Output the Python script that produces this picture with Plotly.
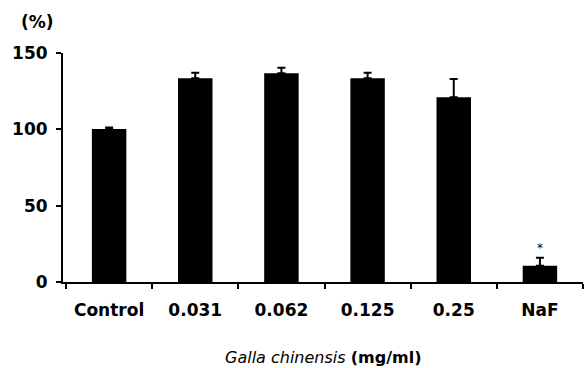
import plotly.graph_objects as go

categories = ["Control", "0.031", "0.062", "0.125", "0.25", "NaF"]
values = [100.2, 133.4, 136.7, 133.4, 121.0, 10.7]
errors = [1.0, 3.6, 3.7, 3.6, 12.0, 5.2]
y_ticks = [0, 50, 100, 150]
significant = ["", "", "", "", "", "*"]

FONT = "DejaVu Sans"

fig = go.Figure()
fig.add_trace(go.Bar(
    x=categories,
    y=values,
    width=0.4,
    marker=dict(color="black", line=dict(width=0)),
    error_y=dict(type="data", array=errors, arrayminus=[0]*len(errors),
                 symmetric=False, color="black", thickness=2, width=4),
    showlegend=False,
))

for c, v, e, s in zip(categories, values, errors, significant):
    if s:
        fig.add_annotation(x=c, y=v + e, text=s, showarrow=False,
                           yanchor="bottom", yshift=1,
                           font=dict(family=FONT, size=12, color="black"))

fig.add_annotation(x=-0.05, y=1.135, xref="paper", yref="paper", text="<b>(%)</b>",
                   showarrow=False, xanchor="center", yanchor="middle",
                   font=dict(family=FONT, size=17, color="black"))

fig.add_annotation(x=0.5, y=-0.33, xref="paper", yref="paper",
                   text="<i>Galla chinensis</i> <b>(mg/ml)</b>",
                   showarrow=False, xanchor="center", yanchor="middle",
                   font=dict(family=FONT, size=16, color="black"))

fig.update_layout(
    width=584, height=368,
    margin=dict(l=63, r=1, t=53, b=86, autoexpand=False),
    paper_bgcolor="white", plot_bgcolor="white",
    xaxis=dict(
        type="category",
        range=[-0.535, 5.5],
        ticktext=["<b>%s</b>" % c for c in categories],
        tickvals=categories,
        tickson="boundaries",
        ticks="outside", ticklen=5, tickwidth=2, tickcolor="black",
        showline=True, linecolor="black", linewidth=2,
        showgrid=False, zeroline=False,
        ticklabelstandoff=12,
        automargin=False,
        tickfont=dict(family=FONT, size=17, color="black"),
    ),
    yaxis=dict(
        range=[0, 150], tickvals=y_ticks,
        ticktext=["<b>%d</b>" % v for v in y_ticks],
        ticks="outside", ticklen=5, tickwidth=2, tickcolor="black",
        showline=True, linecolor="black", linewidth=2,
        showgrid=False, zeroline=False,
        ticklabelstandoff=5,
        automargin=False,
        tickfont=dict(family=FONT, size=17, color="black"),
    ),
)

fig.write_html("out.html", config={"displayModeBar": False},
               post_script="document.body.style.margin='0';document.body.style.overflow='hidden';")
